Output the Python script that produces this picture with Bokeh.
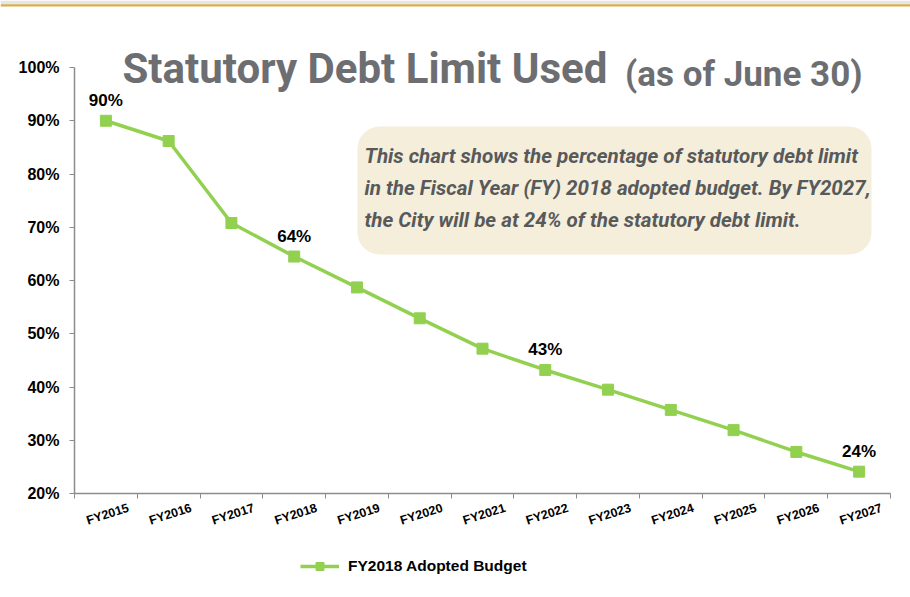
from bokeh.plotting import figure
from bokeh.models import (Range1d, FixedTicker, Label, BoxAnnotation, Legend, LegendItem,
                          ColumnDataSource, CustomJSTickFormatter)
from bokeh.core.properties import value
from bokeh.embed import file_html
from bokeh.resources import INLINE

# ---- data ----
years = ["FY2015", "FY2016", "FY2017", "FY2018", "FY2019", "FY2020", "FY2021",
         "FY2022", "FY2023", "FY2024", "FY2025", "FY2026", "FY2027"]
pct_used = [90.0, 86.2, 70.8, 64.5, 58.7, 52.9, 47.2, 43.2, 39.5, 35.7, 31.9, 27.8, 24.1]
labeled_years = ["FY2015", "FY2018", "FY2022", "FY2027"]
labeled_text = ["90%", "64%", "43%", "24%"]
y_ticks = [20, 30, 40, 50, 60, 70, 80, 90, 100]
series_name = "FY2018 Adopted Budget"
title_main = "Statutory Debt Limit Used"
title_sub = "(as of June 30)"
note_lines = ["This chart shows the percentage of statutory debt limit",
              "in the Fiscal Year (FY) 2018 adopted budget. By FY2027,",
              "the City will be at 24% of the statutory debt limit."]

GREEN = "#92d050"
GRAY_AXIS = "#8c8c8c"
TITLE_GRAY = "#6d6e71"
NOTE_GRAY = "#58595b"
TFONT = "Roboto"

W, H = 910, 597
# plot area inside the canvas (pixels): left, right, top, bottom
PL, PR, PT, PB = 74, 890, 67, 493
n = len(years)
y_lo, y_hi = y_ticks[0], y_ticks[-1]
ppx = (PR - PL) / n
ppy = (PB - PT) / (y_hi - y_lo)

xs = [i + 0.5 for i in range(n)]
src = ColumnDataSource(dict(x=xs, y=pct_used, name=years))
lab_x = [years.index(y) + 0.5 for y in labeled_years]
lab_y = [pct_used[years.index(y)] for y in labeled_years]
lab_src = ColumnDataSource(dict(x=lab_x, y=lab_y, t=labeled_text))

p = figure(width=W, height=H, output_backend="svg", toolbar_location=None,
           x_range=Range1d(-PL / ppx, n + (W - PR) / ppx),
           y_range=Range1d(y_lo - (H - PB) / ppy, y_hi + PT / ppy),
           min_border=0)
p.outline_line_color = None
p.xgrid.visible = False
p.ygrid.visible = False
p.background_fill_color = "white"
p.border_fill_color = "white"

# y axis drawn at x = 0 inside the canvas
p.yaxis.fixed_location = 0
p.yaxis.bounds = (y_lo, y_hi)
p.yaxis.ticker = FixedTicker(ticks=y_ticks)
p.yaxis.formatter = CustomJSTickFormatter(code="return tick + '%';")
p.yaxis.axis_line_color = GRAY_AXIS
p.yaxis.axis_line_width = 1.5
p.yaxis.major_tick_line_color = GRAY_AXIS
p.yaxis.major_tick_out = 5
p.yaxis.major_tick_in = 0
p.yaxis.minor_tick_line_color = None
p.yaxis.major_label_text_font = "Liberation Sans"
p.yaxis.major_label_text_font_style = "bold"
p.yaxis.major_label_text_font_size = "16px"
p.yaxis.major_label_text_color = "black"
p.yaxis.major_label_standoff = 10

# x axis drawn at y = 20%: boundary ticks as minor ticks, labels at category centres
off = 0.36
p.xaxis.fixed_location = y_lo
p.xaxis.bounds = (0, n)
p.xaxis.ticker = FixedTicker(ticks=[x + off for x in xs], minor_ticks=list(range(n + 1)))
p.xaxis.formatter = CustomJSTickFormatter(args=dict(names=years),
                                          code="return names[Math.floor(tick)] || '';")
p.xaxis.axis_line_color = GRAY_AXIS
p.xaxis.axis_line_width = 1.5
p.xaxis.major_tick_line_color = None
p.xaxis.minor_tick_line_color = GRAY_AXIS
p.xaxis.minor_tick_out = 5
p.xaxis.minor_tick_in = 0
p.xaxis.major_label_orientation = 0.31
p.xaxis.major_label_text_font = "Liberation Sans"
p.xaxis.major_label_text_font_style = "bold"
p.xaxis.major_label_text_font_size = "12.5px"
p.xaxis.major_label_text_color = "black"
p.xaxis.major_label_standoff = 8

# series
ln = p.line("x", "y", source=src, line_color=GREEN, line_width=3.5)
mk = p.scatter("x", "y", source=src, marker="square", size=11, fill_color=GREEN, line_color=GREEN)
p.text("x", "y", text="t", source=lab_src, text_align="center", text_baseline="alphabetic",
       y_offset=-20, text_font=value("Liberation Sans"), text_font_style="bold",
       text_font_size="17px", text_color="black")

# legend
legend = Legend(items=[LegendItem(label=series_name, renderers=[ln, mk])],
                location=(300, 21), glyph_width=39, glyph_height=20, padding=0, margin=0,
                border_line_color=None, background_fill_alpha=0,
                label_text_font="Liberation Sans", label_text_font_style="bold",
                label_text_font_size="15.5px", label_text_color="black", label_standoff=9)
p.add_layout(legend)

# top decorative band
p.add_layout(BoxAnnotation(left=0, right=W, top=0, bottom=3.8, left_units="canvas", right_units="canvas",
                           top_units="canvas", bottom_units="canvas",
                           fill_color="#e6e6e6", fill_alpha=1, line_color=None))
p.add_layout(BoxAnnotation(left=0, right=W, top=3.8, bottom=6, left_units="canvas", right_units="canvas",
                           top_units="canvas", bottom_units="canvas",
                           fill_color="#d8ad4c", fill_alpha=1, line_color=None))

# note box
p.add_layout(BoxAnnotation(left=357, right=871, top=126, bottom=254,
                           left_units="canvas", right_units="canvas",
                           top_units="canvas", bottom_units="canvas", border_radius=22,
                           fill_color="#f5eeda", fill_alpha=1, line_color=None))
for i, line in enumerate(note_lines):
    p.add_layout(Label(x=364, y=155 + i * 32, x_units="canvas", y_units="canvas", text=line,
                       text_font=TFONT, text_font_style="bold italic", text_font_size="20.6px",
                       text_color=NOTE_GRAY, text_align="left", text_baseline="alphabetic"))

# title
p.add_layout(Label(x=122, y=68, x_units="canvas", y_units="canvas", text=title_main,
                   text_font=TFONT, text_font_style="bold", text_font_size="42px",
                   text_color=TITLE_GRAY, text_align="left", text_baseline="alphabetic"))
p.add_layout(Label(x=862, y=74, x_units="canvas", y_units="canvas", text=title_sub,
                   text_font=TFONT, text_font_style="bold", text_font_size="35px",
                   text_color=TITLE_GRAY, text_align="right", text_baseline="alphabetic"))

open("out.html", "w").write(file_html(p, INLINE))
